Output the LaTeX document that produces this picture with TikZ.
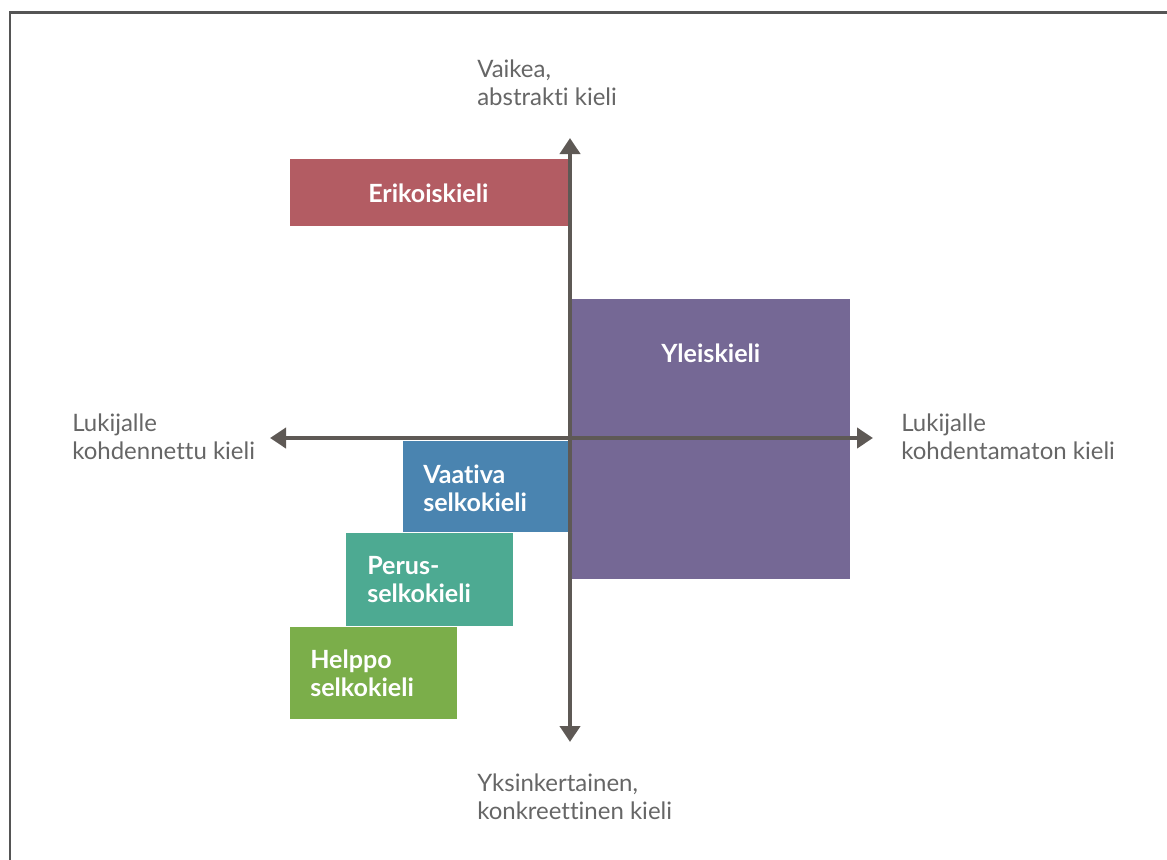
\documentclass[tikz,border=0pt]{standalone}
\usepackage{fontspec}
\setmainfont{Lato}[Ligatures=NoCommon]
\usetikzlibrary{arrows.meta}
\definecolor{erik}{HTML}{B35C63}
\definecolor{ylei}{HTML}{756895}
\definecolor{vaat}{HTML}{4A84B0}
\definecolor{peru}{HTML}{4DAA92}
\definecolor{help}{HTML}{7BAE4A}
\definecolor{axis}{HTML}{5E5955}
\definecolor{lbl}{HTML}{666666}
\definecolor{frame}{HTML}{555555}
\tikzset{
  boxshape/.style={draw=none, inner sep=0pt, outer sep=0pt},
  boxtext/.style={text=white, font=\bfseries\fontsize{18.8pt}{21pt}\selectfont, align=left, inner sep=0pt, anchor=base west},
  axtext/.style={text=lbl, font=\fontsize{18pt}{20.5pt}\selectfont, align=left, inner sep=0pt, anchor=base west},
  axline/.style={draw=axis, line width=3.6pt, -{Triangle[width=15pt,length=12pt]}}
}
\begin{document}
\begin{tikzpicture}[x=0.75pt,y=-0.75pt]
\useasboundingbox (0,0) rectangle (1167,860);
\draw[frame, line width=1.6pt] (10,862) -- (10,12.5) -- (1170,12.5);
% boxes
\node[boxshape, fill=erik, minimum width=278*0.75pt, minimum height=67*0.75pt] (erik) at (429,192.5) {};
\node[boxshape, fill=ylei, minimum width=278*0.75pt, minimum height=280*0.75pt] (ylei) at (711,439) {};
\node[boxshape, fill=vaat, minimum width=165*0.75pt, minimum height=91*0.75pt] (vaat) at (485,486.5) {};
\node[boxshape, fill=peru, minimum width=167*0.75pt, minimum height=93*0.75pt] (peru) at (429.5,579.5) {};
\node[boxshape, fill=help, minimum width=167*0.75pt, minimum height=92*0.75pt] (help) at (373.5,673) {};
% box texts
\node[boxtext] (terik) at (368,202) {Erikoiskieli};
\node[boxtext] (tylei) at (661,362) {Yleiskieli};
\node[boxtext] (tvaat) at (423,511) {Vaativa\\selkokieli};
\node[boxtext] (tperu) at (367,602) {Perus-\\selkokieli};
\node[boxtext] (thelp) at (310,696) {Helppo\\selkokieli};
% axes
\coordinate (c) at (570,438);
\coordinate (top) at (570,138);
\coordinate (bot) at (570,742);
\coordinate (lft) at (270,438);
\coordinate (rgt) at (873,438);
\draw[axline] (c) -- (top);
\draw[axline] (c) -- (bot);
\draw[axline] (c) -- (lft);
\draw[axline] (c) -- (rgt);
% axis labels
\node[axtext] (ltop) at (477,105) {Vaikea,\\abstrakti kieli};
\node[axtext] (lbot) at (477,819) {Yksinkertainen,\\konkreettinen kieli};
\node[axtext] (llft) at (72,459) {Lukijalle\\kohdennettu kieli};
\node[axtext] (lrgt) at (901,459) {Lukijalle\\kohdentamaton kieli};
\end{tikzpicture}
\end{document}
